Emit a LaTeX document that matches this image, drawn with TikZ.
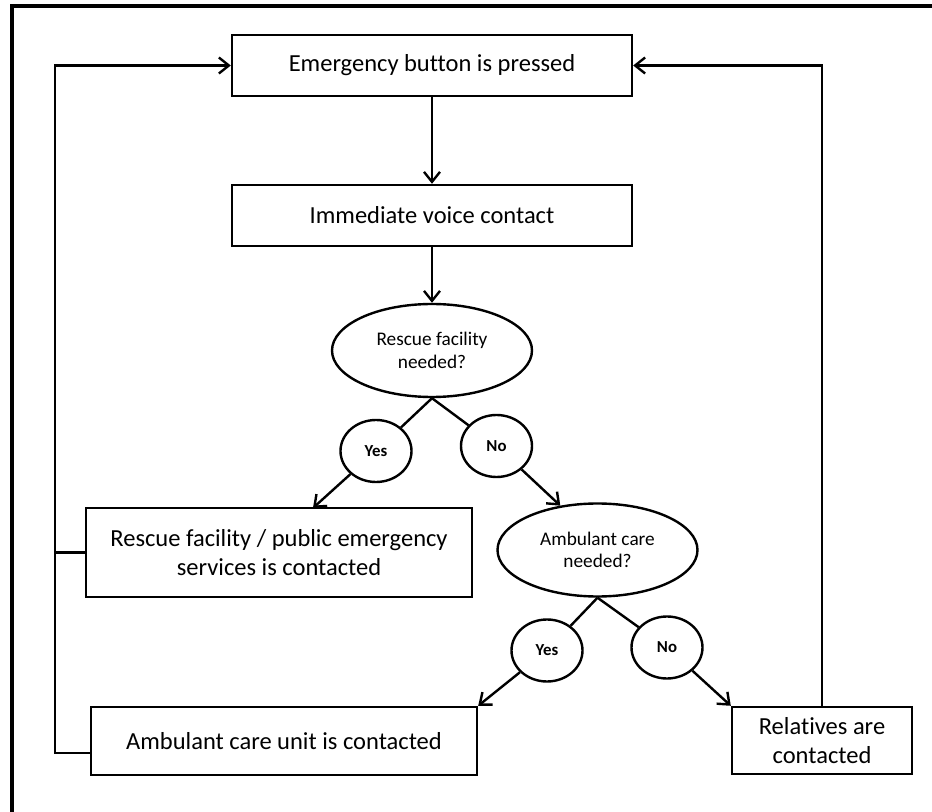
\documentclass[tikz,border=0pt]{standalone}
\usepackage{fontspec}
\setmainfont[Ligatures=NoCommon]{Carlito}
\usetikzlibrary{shapes.geometric,arrows.meta}

\begin{document}
\begin{tikzpicture}[x=0.5pt,y=-0.5pt,line width=1.2pt,
        box/.style={rectangle,draw,align=center,inner sep=0pt,font=\fontsize{12.25}{14.3}\selectfont},
        query/.style={ellipse,draw,align=center,inner sep=0pt,minimum width=100pt,minimum height=46.5pt,font=\fontsize{9.65}{11.3}\selectfont},
        answer/.style={ellipse,draw,inner sep=0pt,minimum width=35.5pt,minimum height=31pt,font=\bfseries\fontsize{8.4}{10}\selectfont},
        link/.style={-{Straight Barb[length=5pt,width=8pt]}}]
        \useasboundingbox (0,0) rectangle (932,812);
        \draw[line width=2pt] (12,812) -- (12,6) -- (932,6);

        \node (Press) at (432,65.5) [box,minimum width=200pt,minimum height=30.5pt] {Emergency button is pressed};
        \node (Voice) at (432,215.5) [box,minimum width=200pt,minimum height=30.5pt] {Immediate voice contact};
        \node (Q1) at (432,350.5) [query] {Rescue facility\\needed?};
        \node (Y1) at (376,451) [answer] {Yes};
        \node (N1) at (496.5,446) [answer] {No};
        \node (Rescue) at (279,552.5) [box,minimum width=193pt,minimum height=44.5pt] {Rescue facility / public emergency\\services is contacted};
        \node (Q2) at (597.5,550) [query] {Ambulant care\\needed?};
        \node (Y2) at (547,650.5) [answer] {Yes};
        \node (N2) at (667,647.5) [answer] {No};
        \node (Amb) at (284,741) [box,minimum width=193pt,minimum height=34pt] {Ambulant care unit is contacted};
        \node (Rel) at (822,740.5) [box,minimum width=90pt,minimum height=33.5pt] {Relatives are\\contacted};
        \coordinate (RescueIn) at (313,508);
        \coordinate (LoopL) at (55,753);

        \draw[link] (Press) -- (Voice);
        \draw[link] (Voice) -- (Q1);
        \draw (Q1.south) -- (Y1);
        \draw (Q1.south) -- (N1);
        \draw[link] (Y1) -- (RescueIn);
        \draw[link] (N1) -- (Q2.130);
        \draw (Q2.south) -- (Y2);
        \draw (Q2.south) -- (N2);
        \draw[link] (Y2) -- (Amb.north east);
        \draw[link] (N2) -- (Rel.north west);
        \draw (Rescue.west) -- (Rescue.west -| LoopL);
        \draw[link] (Amb.west |- LoopL) -- (LoopL) |- (Press.west);
        \draw[link] (Rel.north) -- (Rel.north |- Press.east) -- (Press.east);
    \end{tikzpicture}
\end{document}
